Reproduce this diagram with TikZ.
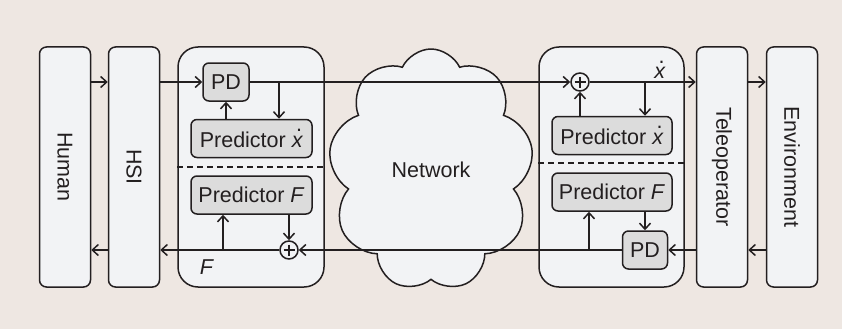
\documentclass[tikz,border=0pt]{standalone}
\usepackage{fontspec}
\setmainfont{Liberation Sans}
\usepackage{tikz}
\usetikzlibrary{arrows.meta, positioning, calc, shapes.symbols}
\usepackage{xcolor}
\definecolor{bgbeige}{HTML}{EEE7E2}
\definecolor{boxfill}{HTML}{F2F3F5}
\definecolor{blockgray}{HTML}{DCDCDC}
\definecolor{linedark}{HTML}{231F20}
\newcommand{\xdot}{\mbox{\textit{x}\llap{\raisebox{0.72em}{.}\kern0.05em}}}

\begin{document}
\begin{tikzpicture}[x=1pt, y=-1pt, line width=1.5pt, color=linedark,
    every node/.style={font=\fontsize{21.5}{25}\selectfont},
    tallbox/.style={draw, fill=boxfill, rounded corners=7pt, minimum width=51pt, minimum height=240pt, inner sep=0pt},
    panel/.style={draw, fill=boxfill, rounded corners=20pt, minimum width=146pt, minimum height=240pt},
    block/.style={draw, fill=blockgray, rounded corners=6pt, minimum height=38pt, inner sep=2pt},
    sumnode/.style={draw, fill=boxfill, circle, minimum size=18pt, inner sep=0pt,
        path picture={\draw[line width=1.3pt] (path picture bounding box.center) ++(-5.5,0) -- ++(11,0) ++(-5.5,-5.5) -- ++(0,11);}},
    arr/.style={-{Straight Barb[length=6pt,width=11pt]}},
    sep/.style={dash pattern=on 6pt off 4pt}]
  \fill[bgbeige] (0,0) rectangle (842,329);
  \useasboundingbox (0,0) rectangle (842,329);

  % outer blocks
  \node[tallbox] (human) at (65,167) {\rotatebox{-90}{Human}};
  \node[tallbox] (hsi) at (134,167) {\rotatebox{-90}{HSI}};
  \node[tallbox] (tele) at (722,167) {\rotatebox{-90}{Teleoperator}};
  \node[tallbox] (env) at (792,167) {\rotatebox{-90}{Environment}};

  % network
  \node[cloud, draw, fill=boxfill, cloud puffs=9, cloud puff arc=130, aspect=0.85, minimum width=205pt, minimum height=242pt] (net) at (431,170) {Network};

  % master side
  \node[panel] (panelL) at (251,167) {};
  \node[block, minimum width=46pt] (pdL) at (226,82) {PD};
  \node[block, minimum width=121pt] (predxL) at (251.5,138.5) {Predictor \xdot};
  \node[block, minimum width=121pt] (predFL) at (251.5,195) {Predictor \textit{F}};
  \node[sumnode] (sumL) at (289,250) {};
  \draw[sep] (panelL.west) -- (panelL.east);
  \node (flab) at (207,267) {\textit{F}};

  % slave side
  \node[panel, minimum width=145pt] (panelR) at (611.5,167) {};
  \node[sumnode] (sumR) at (580,82) {};
  \node[block, minimum width=120pt] (predxR) at (612,135.5) {Predictor \xdot};
  \node[block, minimum width=120pt] (predFR) at (612,192) {Predictor \textit{F}};
  \node[block, minimum width=45pt] (pdR) at (645,250) {PD};
  \draw[sep] ($(panelR.west)+(0,-4)$) -- ($(panelR.east)+(0,-4)$);
  \node (xlab) at (660,70) {\xdot};

  % forward path
  \draw[arr] (human.east |- pdL.west) -- (hsi.west |- pdL.west);
  \draw[arr] (hsi.east |- pdL.west) -- (pdL.west);
  \draw[arr] (pdL.east) -- (sumR.west);
  \draw[arr] (sumR.east) -- (tele.west |- sumR);
  \draw[arr] (tele.east |- sumR) -- (env.west |- sumR);
  \coordinate (brL) at (279,82);
  \draw[arr] (brL) -- (brL |- predxL.north);
  \draw[arr] (pdL |- predxL.north) -- (pdL.south);
  \coordinate (brR) at (645,82);
  \draw[arr] (brR) -- (brR |- predxR.north);
  \draw[arr] (sumR |- predxR.north) -- (sumR.south);

  % backward path
  \draw[arr] (env.west |- pdR) -- (tele.east |- pdR);
  \draw[arr] (tele.west |- pdR) -- (pdR.east);
  \draw[arr] (pdR.west) -- (sumL.east);
  \draw[arr] (sumL.west) -- (hsi.east |- sumL);
  \draw[arr] (hsi.west |- sumL) -- (human.east |- sumL);
  \draw[arr] (pdR |- predFR.south) -- (pdR.north);
  \draw[arr] (sumL |- predFL.south) -- (sumL.north);
  \coordinate (upL) at (223,250);
  \draw[arr] (upL) -- (upL |- predFL.south);
  \coordinate (upR) at (589,250);
  \draw[arr] (upR) -- (upR |- predFR.south);
\end{tikzpicture}
\end{document}
